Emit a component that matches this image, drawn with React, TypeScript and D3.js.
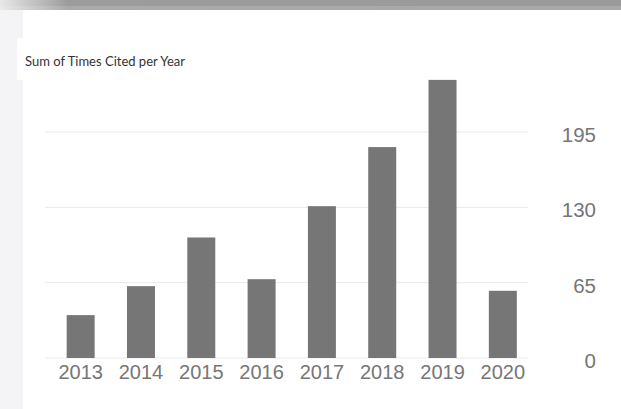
import { useMemo } from "react";
import * as d3 from "d3";

const WIDTH = 621;
const HEIGHT = 409;

const years = ["2013", "2014", "2015", "2016", "2017", "2018", "2019", "2020"];
const timesCited = [37, 62, 104, 68, 131, 182, 240, 58];
const yTicks = [0, 65, 130, 195];
const yMax = 260;

const TITLE = "Sum of Times Cited per Year";

const BAR_COLOR = "#767676";
const GRID_COLOR = "#e9e9e9";
const LABEL_COLOR = "#767676";

const PLOT = { left: 45, right: 528, top: 56.7, bottom: 358 };

export default function App() {
  const xScale = useMemo(() => {
    return d3
      .scaleBand<string>()
      .domain(years)
      .range([50.5, 533])
      .paddingInner(0.536)
      .paddingOuter(0.268);
  }, []);

  const yScale = useMemo(() => {
    return d3.scaleLinear().domain([0, yMax]).range([PLOT.bottom, PLOT.top]);
  }, []);

  const bars = years.map((year, i) => {
    const x = xScale(year);
    if (x === undefined) return null;
    const v = timesCited[i];
    return (
      <rect
        key={year}
        x={x}
        y={yScale(v)}
        width={xScale.bandwidth()}
        height={yScale(0) - yScale(v)}
        fill={BAR_COLOR}
      />
    );
  });

  return (
    <svg
      width={WIDTH}
      height={HEIGHT}
      style={{ position: "absolute", left: 0, top: 0 }}
    >
      <defs>
        <linearGradient id="band" x1="0" x2="1" y1="0" y2="0">
          <stop offset="0" stopColor="#e8e8e8" />
          <stop offset="0.11" stopColor="#9c9c9c" />
          <stop offset="1" stopColor="#9a9a9a" />
        </linearGradient>
      </defs>

      {/* page background behind the panel */}
      <rect x={0} y={0} width={WIDTH} height={HEIGHT} fill="#f4f4f6" />
      <rect x={23} y={10} width={WIDTH - 23} height={HEIGHT - 10} fill="#ffffff" />
      <rect x={17} y={38} width={10} height={42} fill="#ffffff" />
      <rect x={0} y={0} width={WIDTH} height={6} fill="url(#band)" />
      <rect x={0} y={6} width={WIDTH} height={4} fill="url(#band)" opacity={0.85} />

      <text
        x={25}
        y={66}
        fontFamily="Lato"
        fontSize={13}
        fill="#333333"
      >
        {TITLE}
      </text>

      {yTicks.map((t) => (
        <g key={t}>
          <line
            x1={PLOT.left}
            x2={PLOT.right}
            y1={yScale(t)}
            y2={yScale(t)}
            stroke={GRID_COLOR}
            strokeWidth={1}
          />
          <text
            x={596}
            y={yScale(t) + 10}
            textAnchor="end"
            fontFamily="Liberation Sans, Arial, sans-serif"
            fontSize={20.5}
            fill={LABEL_COLOR}
          >
            {t}
          </text>
        </g>
      ))}

      {bars}

      {years.map((year) => (
        <text
          key={year}
          x={(xScale(year) ?? 0) + xScale.bandwidth() / 2}
          y={379}
          textAnchor="middle"
          fontFamily="Liberation Sans, Arial, sans-serif"
          fontSize={20}
          fill={LABEL_COLOR}
        >
          {year}
        </text>
      ))}
    </svg>
  );
}
